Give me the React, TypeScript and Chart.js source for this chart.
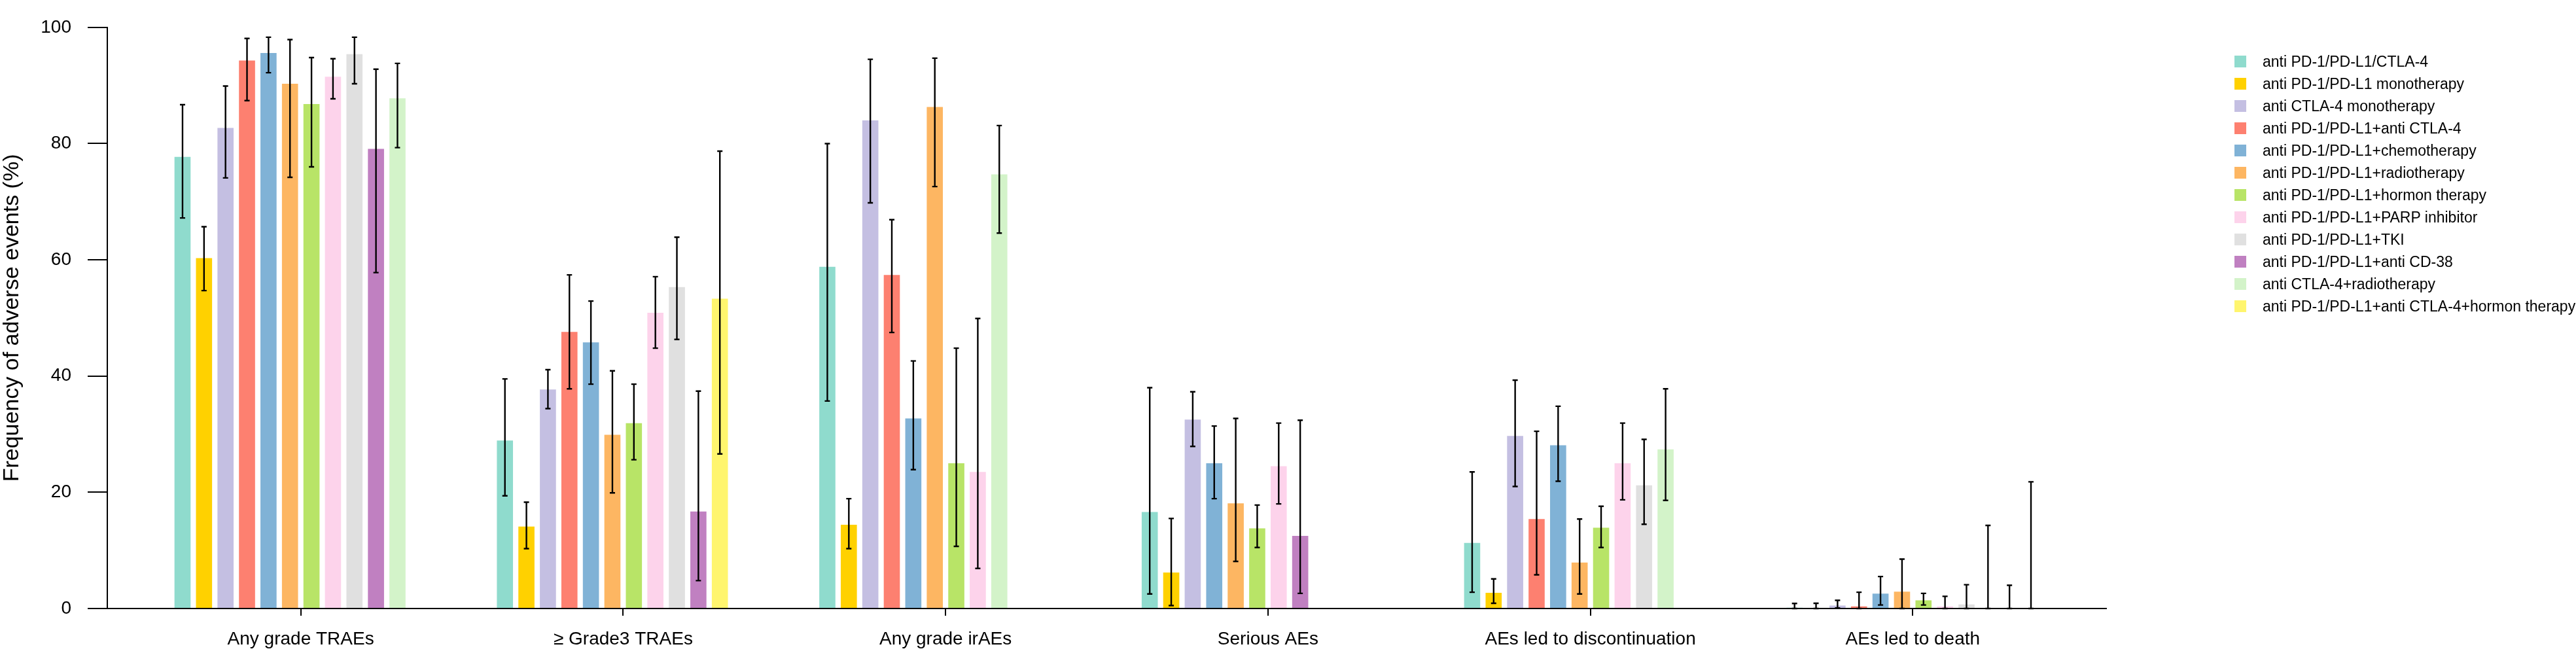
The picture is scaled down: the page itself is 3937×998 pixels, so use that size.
import { useEffect, useRef } from "react";
import { Chart, registerables, type Plugin } from "chart.js";

Chart.register(...registerables);

const FONT = "'Liberation Sans', Arial, Helvetica, sans-serif";

const CATEGORIES = [
  "Any grade TRAEs",
  "≥ Grade3 TRAEs",
  "Any grade irAEs",
  "Serious AEs",
  "AEs led to discontinuation",
  "AEs led to death",
];

const SERIES_NAMES = [
  "anti PD-1/PD-L1/CTLA-4",
  "anti PD-1/PD-L1 monotherapy",
  "anti CTLA-4 monotherapy",
  "anti PD-1/PD-L1+anti CTLA-4",
  "anti PD-1/PD-L1+chemotherapy",
  "anti PD-1/PD-L1+radiotherapy",
  "anti PD-1/PD-L1+hormon therapy",
  "anti PD-1/PD-L1+PARP inhibitor",
  "anti PD-1/PD-L1+TKI",
  "anti PD-1/PD-L1+anti CD-38",
  "anti CTLA-4+radiotherapy",
  "anti PD-1/PD-L1+anti CTLA-4+hormon therapy",
];

const SERIES_COLORS = [
  "#8FDBCD", "#FFD100", "#C4BFE2", "#FD8070", "#80B2D6", "#FDB662",
  "#B8E467", "#FDD3EB", "#E0E0E0", "#C080C1", "#D3F3C9", "#FFF56E",
];

// pooled frequency (%), one row per series, null = not reported
const VALUES: (number | null)[][] = [
  [77.7, 28.9, 58.8, 16.6, 11.3, 0.15],
  [60.3, 14.1, 14.4, 6.2, 2.7, 0],
  [82.7, 37.7, 84.0, 32.5, 29.7, 0.5],
  [94.3, 47.6, 57.4, null, 15.4, 0.36],
  [95.6, 45.8, 32.7, 25.0, 28.1, 2.55],
  [90.3, 29.9, 86.3, 18.1, 7.9, 2.9],
  [86.8, 31.9, 25.0, 13.8, 13.9, 1.4],
  [91.5, 50.9, 23.5, 24.5, 25.0, 0.36],
  [95.4, 55.3, null, null, 21.2, 0.7],
  [79.1, 16.7, null, 12.5, null, 0],
  [87.8, null, 74.7, null, 27.4, 0],
  [null, 53.3, null, null, null, 0],
];

// lower 95% CI
const CI_LOW: (number | null)[][] = [
  [67.2, 19.4, 35.7, 2.5, 2.8, 0],
  [54.7, 10.3, 10.3, 0.5, 0.9, 0],
  [74.1, 34.4, 69.8, 27.9, 21.0, 0.1],
  [87.4, 37.8, 47.5, null, 5.8, 0],
  [92.2, 38.6, 23.9, 18.9, 21.9, 0.6],
  [74.2, 19.9, 72.6, 8.1, 2.5, 0],
  [76.0, 25.6, 10.7, 10.5, 10.5, 0.6],
  [87.7, 44.8, 6.9, 18.0, 18.7, 0],
  [90.3, 46.3, null, null, 14.5, 0],
  [57.8, 4.8, null, 2.6, null, 0],
  [79.3, null, 64.6, null, 18.6, 0],
  [null, 26.6, null, null, null, 0],
];

// upper 95% CI
const CI_HIGH: (number | null)[][] = [
  [86.7, 39.5, 80.0, 38.0, 23.5, 0.87],
  [65.7, 18.3, 18.9, 15.5, 5.1, 0.9],
  [89.9, 41.1, 94.5, 37.3, 39.3, 1.4],
  [98.1, 57.4, 66.9, null, 30.5, 2.8],
  [98.3, 52.9, 42.6, 31.4, 34.8, 5.5],
  [97.9, 40.9, 94.7, 32.7, 15.4, 8.5],
  [94.8, 38.6, 44.8, 17.8, 17.6, 2.6],
  [94.6, 57.1, 49.9, 31.9, 31.9, 2.1],
  [98.3, 63.9, null, null, 29.1, 4.1],
  [92.8, 37.4, null, 32.4, null, 14.3],
  [93.8, null, 83.1, null, 37.8, 4.0],
  [null, 78.7, null, null, null, 21.8],
];

const Y_TICKS = [0, 20, 40, 60, 80, 100];

// the bars are packed to the left in each group: missing series leave no gap,
// so build one dataset per slot position instead of per series
function buildSlots() {
  const n = SERIES_NAMES.length;
  const slots = Array.from({ length: n }, (_, k) => ({
    label: "slot " + (k + 1),
    data: CATEGORIES.map(() => null as number | null),
    backgroundColor: CATEGORIES.map(() => "rgba(0,0,0,0)"),
    low: CATEGORIES.map(() => null as number | null),
    high: CATEGORIES.map(() => null as number | null),
    borderWidth: 0,
  }));
  CATEGORIES.forEach((_, c) => {
    let k = 0;
    for (let s = 0; s < n; s++) {
      const v = VALUES[s][c];
      if (v == null) continue;
      slots[k].data[c] = v;
      slots[k].backgroundColor[c] = SERIES_COLORS[s];
      slots[k].low[c] = CI_LOW[s][c];
      slots[k].high[c] = CI_HIGH[s][c];
      k++;
    }
  });
  return slots;
}

const errorBars: Plugin<"bar"> = {
  id: "errorBars",
  afterDatasetsDraw(chart) {
    const { ctx } = chart;
    const yScale = chart.scales.y;
    ctx.save();
    ctx.strokeStyle = "#000";
    ctx.lineWidth = 2.4;
    chart.data.datasets.forEach((ds: any, di) => {
      const meta = chart.getDatasetMeta(di);
      meta.data.forEach((bar: any, i) => {
        const lo = ds.low[i];
        const hi = ds.high[i];
        if (lo == null || hi == null || ds.data[i] == null) return;
        const x = bar.x;
        const yLo = yScale.getPixelForValue(lo);
        const yHi = yScale.getPixelForValue(hi);
        ctx.beginPath();
        ctx.moveTo(x, yLo);
        ctx.lineTo(x, yHi);
        ctx.moveTo(x - 4, yLo);
        ctx.lineTo(x + 4, yLo);
        ctx.moveTo(x - 4, yHi);
        ctx.lineTo(x + 4, yHi);
        ctx.stroke();
      });
    });
    ctx.restore();
  },
};

export default function App() {
  const canvasRef = useRef<HTMLCanvasElement>(null);

  useEffect(() => {
    if (!canvasRef.current) return;
    Chart.defaults.font.family = FONT;

    const chart = new Chart(canvasRef.current, {
      type: "bar",
      data: { labels: CATEGORIES, datasets: buildSlots() as any },
      options: {
        animation: false,
        responsive: true,
        maintainAspectRatio: false,
        layout: { autoPadding: false, padding: { top: 13, right: 718, bottom: 0, left: 0 } },
        plugins: { legend: { display: false }, tooltip: { enabled: false } },
        datasets: { bar: { categoryPercentage: 0.8, barPercentage: 0.75 } },
        scales: {
          x: {
            ticks: { color: "#000", padding: 19, font: { size: 28 }, maxRotation: 0, autoSkip: false },
            grid: { drawOnChartArea: false, offset: false, tickLength: 11, color: "#000", lineWidth: 2 },
            border: { color: "#000", width: 2 },
            afterFit: (s: any) => {
              s.height = 68;
            },
            // leave a gap between the y axis and the first group, and run the axis past the last one
            afterBuildTicks: (s: any) => {
              s._startValue = -0.6;
              s._valueRange = 6.2;
            },
          },
          y: {
            min: 0,
            max: 100,
            afterBuildTicks: (s: any) => {
              s.ticks = Y_TICKS.map((value) => ({ value }));
            },
            ticks: { color: "#000", padding: 25, font: { size: 28 } },
            grid: { drawOnChartArea: false, tickLength: 30, color: "#000", lineWidth: 2 },
            border: { color: "#000", width: 2 },
            title: {
              display: true,
              text: "Frequency of adverse events (%)",
              color: "#000",
              font: { size: 34, lineHeight: 1.1 },
              padding: 0,
            },
            afterFit: (s: any) => {
              s.width = 164;
            },
          },
        },
      },
      plugins: [errorBars],
    });

    return () => {
      chart.destroy();
    };
  }, []);

  return (
    <div style={{ position: "absolute", left: 0, top: 0, width: 3937, height: 998, background: "#fff" }}>
      <div style={{ position: "absolute", left: 0, top: 0, width: 3937, height: 998 }}>
        <canvas ref={canvasRef} />
      </div>
      <div style={{ position: "absolute", left: 3415, top: 77, fontFamily: FONT, fontSize: 23, color: "#000" }}>
        {SERIES_NAMES.map((name, i) => (
          <div key={name} style={{ display: "flex", alignItems: "center", height: 34, whiteSpace: "nowrap" }}>
            <span style={{ width: 18, height: 18, background: SERIES_COLORS[i], display: "inline-block", flex: "none" }} />
            <span style={{ marginLeft: 25 }}>{name}</span>
          </div>
        ))}
      </div>
    </div>
  );
}
